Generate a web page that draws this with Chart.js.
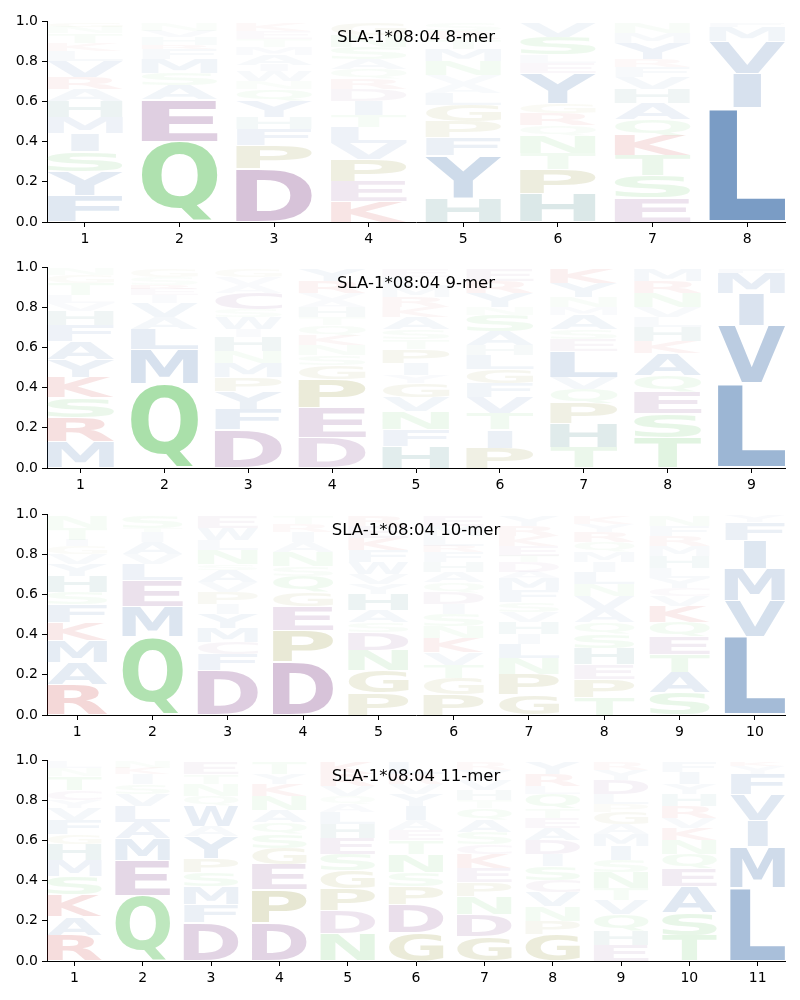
<!DOCTYPE html>
<html>
<head>
<meta charset="utf-8">
<script src="https://cdn.jsdelivr.net/npm/chart.js@4.4.1/dist/chart.umd.min.js"></script>
<style>
  body { margin: 0; background: #fff; }
  #wrap { position: relative; width: 800px; height: 1000px; }
  #wrap canvas { position: absolute; left: 0; }
</style>
</head>
<body>
<div id="wrap"></div>
<script>
// Letter stacks, bottom to top: [residue, height]
const mer8 = [
    [['F',.13],['Y',.12],['S',.10],['I',.09],['M',.08],['H',.08],['A',.06],['R',.06],['V',.08],['L',.05],['K',.04],['T',.05],['N',.03],['G',.02]],
    [['Q',.40],['E',.21],['A',.07],['S',.06],['M',.07],['F',.05],['R',.02],['H',.04],['V',.03],['N',.04]],
    [['D',.265],['P',.115],['F',.08],['H',.06],['Y',.08],['Q',.06],['N',.04],['W',.05],['I',.03],['A',.05],['M',.04],['T',.04],['E',.04],['K',.04]],
    [['K',.10],['E',.10],['P',.11],['V',.08],['L',.08],['T',.06],['I',.07],['D',.06],['R',.05],['Q',.05],['A',.05],['S',.06],['N',.06],['G',.06]],
    [['H',.12],['Y',.21],['F',.09],['P',.08],['G',.08],['L',.06],['A',.045],['V',.045],['N',.07],['M',.06],['T',.05],['R',.04],['S',.04]],
    [['H',.14],['P',.12],['T',.08],['N',.09],['Q',.05],['R',.06],['G',.05],['Y',.15],['E',.05],['L',.04],['S',.09],['V',.07]],
    [['E',.12],['S',.11],['T',.10],['K',.10],['Q',.08],['A',.08],['H',.07],['V',.06],['F',.05],['R',.04],['Y',.08],['M',.05],['N',.05]],
    [['L',.57],['I',.17],['V',.16],['M',.07],['F',.02]]
];
const mer9 = [
    [['M',.13],['R',.12],['S',.10],['K',.10],['Y',.09],['A',.09],['F',.08],['H',.07],['V',.04],['L',.04],['T',.06],['G',.04],['N',.03]],
    [['Q',.42],['M',.17],['L',.10],['A',.06],['V',.07],['I',.04],['E',.03],['R',.02],['S',.04],['G',.04]],
    [['D',.19],['F',.10],['Y',.09],['P',.07],['M',.07],['N',.06],['H',.07],['I',.04],['W',.06],['S',.04],['C',.08],['A',.04],['V',.04],['G',.04]],
    [['D',.15],['E',.15],['P',.14],['G',.07],['S',.05],['N',.05],['K',.05],['Q',.05],['T',.04],['H',.05],['A',.035],['V',.035],['R',.06],['Y',.06]],
    [['H',.11],['F',.08],['N',.09],['V',.07],['G',.07],['Y',.04],['I',.06],['P',.07],['T',.05],['S',.05],['A',.06],['K',.05],['R',.05],['M',.05],['L',.05],['E',.04]],
    [['P',.10],['I',.09],['T',.08],['V',.08],['F',.07],['G',.07],['L',.07],['H',.05],['A',.07],['S',.08],['N',.04],['Y',.07],['R',.06],['E',.06]],
    [['T',.10],['H',.12],['P',.10],['Q',.07],['V',.06],['L',.13],['E',.06],['S',.05],['A',.07],['M',.04],['N',.05],['Y',.07],['K',.07]],
    [['T',.15],['S',.12],['E',.11],['Q',.08],['A',.11],['K',.06],['H',.07],['L',.05],['V',.05],['N',.07],['R',.06],['M',.06]],
    [['L',.42],['V',.29],['I',.16],['M',.10],['F',.02]]
];
const mer10 = [
    [['R',.15],['A',.11],['M',.11],['K',.09],['F',.09],['S',.06],['H',.08],['Y',.06],['V',.05],['G',.04],['I',.03],['T',.06],['N',.06]],
    [['Q',.39],['M',.15],['E',.13],['L',.08],['V',.05],['A',.06],['I',.05],['T',.02],['S',.06]],
    [['D',.22],['F',.08],['C',.06],['M',.07],['Y',.07],['I',.05],['P',.06],['V',.05],['A',.06],['S',.03],['N',.07],['L',.05],['W',.06],['E',.06]],
    [['D',.265],['P',.155],['E',.12],['G',.07],['Q',.08],['S',.05],['N',.07],['A',.05],['I',.05],['R',.04],['T',.04]],
    [['P',.11],['G',.11],['N',.10],['D',.09],['S',.05],['A',.06],['H',.08],['Y',.05],['V',.05],['W',.06],['F',.06],['K',.06],['E',.06],['R',.05]],
    [['P',.10],['G',.08],['T',.07],['V',.06],['K',.07],['N',.06],['S',.06],['I',.05],['D',.06],['Q',.05],['A',.05],['H',.05],['F',.05],['R',.03],['L',.05],['M',.05],['E',.05]],
    [['G',.10],['P',.10],['N',.08],['L',.07],['I',.05],['H',.06],['V',.05],['S',.05],['F',.06],['M',.06],['A',.03],['D',.05],['T',.03],['E',.05],['K',.05],['R',.05],['Y',.05]],
    [['T',.09],['P',.09],['E',.07],['H',.08],['S',.07],['Q',.06],['A',.065],['V',.065],['N',.06],['L',.06],['I',.05],['M',.05],['Q',.05],['R',.05],['Y',.04],['K',.04]],
    [['S',.11],['A',.10],['T',.09],['E',.09],['Q',.07],['K',.08],['V',.05],['C',.04],['Y',.05],['L',.05],['H',.06],['M',.05],['R',.05],['F',.05],['N',.05]],
    [['L',.39],['V',.18],['M',.16],['I',.14],['F',.09],['Y',.03]]
];
const mer11 = [
    [['R',.13],['A',.09],['K',.11],['S',.09],['M',.08],['H',.08],['G',.05],['F',.07],['V',.06],['Y',.04],['C',.05],['T',.07],['N',.04],['L',.03]],
    [['Q',.325],['E',.175],['M',.11],['A',.08],['L',.08],['V',.06],['S',.05],['I',.05],['K',.03],['N',.03]],
    [['D',.19],['F',.09],['M',.09],['S',.07],['P',.07],['Y',.11],['A',.05],['W',.10],['Q',.05],['N',.06],['T',.05],['E',.06]],
    [['D',.19],['P',.165],['E',.125],['G',.08],['S',.07],['Q',.06],['A',.06],['N',.07],['K',.06],['Y',.05],['T',.06]],
    [['N',.135],['D',.115],['P',.11],['G',.09],['S',.08],['E',.08],['H',.07],['L',.06],['A',.04],['Q',.04],['V',.05],['R',.06],['K',.06]],
    [['G',.14],['D',.14],['P',.09],['S',.07],['N',.09],['T',.07],['E',.05],['A',.05],['I',.07],['Y',.06],['V',.05],['R',.05],['L',.06]],
    [['G',.12],['D',.11],['N',.09],['P',.07],['E',.07],['K',.07],['C',.05],['S',.06],['A',.06],['Q',.06],['T',.04],['H',.05],['V',.05],['Y',.05],['R',.04]],
    [['G',.135],['P',.065],['N',.07],['V',.07],['C',.06],['S',.07],['I',.06],['D',.07],['A',.06],['E',.05],['T',.05],['Q',.07],['L',.04],['R',.06],['Y',.06]],
    [['E',.08],['H',.07],['Q',.08],['V',.07],['T',.06],['N',.08],['S',.06],['I',.07],['M',.06],['A',.05],['G',.06],['P',.04],['L',.05],['D',.07],['Y',.05],['R',.04]],
    [['T',.125],['S',.115],['A',.13],['E',.09],['Q',.07],['N',.07],['K',.06],['V',.05],['R',.06],['H',.06],['Y',.05],['I',.06],['F',.05]],
    [['L',.365],['M',.205],['I',.13],['V',.13],['F',.10],['Y',.04],['K',.02]]
];

const panelTitles = ['SLA-1*08:04 8-mer', 'SLA-1*08:04 9-mer', 'SLA-1*08:04 10-mer', 'SLA-1*08:04 11-mer'];
const panelData = [mer8, mer9, mer10, mer11];

// residue colour groups
const GROUP_RGB = {
    hydrophobic: [60, 110, 170],
    polar: [87, 193, 87],
    acidic: [129, 65, 136],
    special: [134, 134, 30],
    basic: [195, 40, 40],
    his: [40, 120, 120]
};
const RESIDUE_GROUP = {
    A: 'hydrophobic', V: 'hydrophobic', L: 'hydrophobic', I: 'hydrophobic', M: 'hydrophobic',
    F: 'hydrophobic', W: 'hydrophobic', Y: 'hydrophobic',
    S: 'polar', T: 'polar', N: 'polar', Q: 'polar',
    D: 'acidic', E: 'acidic', C: 'acidic',
    P: 'special', G: 'special',
    K: 'basic', R: 'basic',
    H: 'his'
};

const GLYPH_FONT = 'bold 200px "DejaVu Sans"';
const TICK_FONT = { family: 'DejaVu Sans', size: 14 };

// opacity grows with letter height, small letters fade out faster
function residueColor(res, h) {
    const rgb = GROUP_RGB[RESIDUE_GROUP[res]];
    const a = Math.max(0.03, Math.min(1, h * 1.2 * Math.min(1, Math.sqrt(h / 0.1))));
    return `rgba(${rgb[0]},${rgb[1]},${rgb[2]},${a.toFixed(3)})`;
}

// narrow glyphs (like I) are not stretched wider than an E would be
function drawGlyph(ctx, ch, x0, x1, yTop, yBot, color) {
    ctx.save();
    ctx.font = GLYPH_FONT;
    ctx.textAlign = 'left';
    ctx.textBaseline = 'alphabetic';
    const m = ctx.measureText(ch);
    const e = ctx.measureText('E');
    const gw = m.actualBoundingBoxLeft + m.actualBoundingBoxRight;
    const ew = e.actualBoundingBoxLeft + e.actualBoundingBoxRight;
    const gh = m.actualBoundingBoxAscent + m.actualBoundingBoxDescent;
    const colW = x1 - x0;
    const sx = Math.min(colW / gw, colW / ew);
    const drawnW = gw * sx;
    ctx.translate(x0 + (colW - drawnW) / 2, yTop);
    ctx.scale(sx, (yBot - yTop) / gh);
    ctx.fillStyle = color;
    ctx.fillText(ch, m.actualBoundingBoxLeft, m.actualBoundingBoxAscent);
    ctx.restore();
}

// draws the stacked letters and the in-axes title
const logoPlugin = {
    id: 'logo',
    afterDatasetsDraw(chart, args, opts) {
        const { ctx, chartArea } = chart;
        const x = chart.scales.x, y = chart.scales.y;
        opts.columns.forEach((stack, i) => {
            const pos = i + 1;
            const left = x.getPixelForValue(pos - 0.4);
            const right = x.getPixelForValue(pos + 0.4);
            let base = 0;
            stack.forEach(([res, h]) => {
                const pad = h * 0.02;
                const yBot = y.getPixelForValue(base + pad);
                const yTop = y.getPixelForValue(base + h - pad);
                drawGlyph(ctx, res, left, right, yTop, yBot, residueColor(res, h));
                base += h;
            });
        });
        ctx.save();
        ctx.font = '16.5px "DejaVu Sans"';
        ctx.fillStyle = '#000';
        ctx.textAlign = 'center';
        ctx.textBaseline = 'alphabetic';
        ctx.fillText(opts.title, (chartArea.left + chartArea.right) / 2, chartArea.top + 20.7);
        ctx.restore();
    }
};

function axisGrid() {
    return { display: true, drawOnChartArea: false, drawTicks: true, tickLength: 5, tickColor: '#000', tickWidth: 1 };
}

const wrap = document.getElementById('wrap');
panelData.forEach((columns, k) => {
    const canvas = document.createElement('canvas');
    canvas.width = 800;
    canvas.height = 250;
    canvas.style.top = Math.round(246.33 * k) + 'px';
    wrap.appendChild(canvas);
    const positions = columns.map((_, i) => i + 1);

    new Chart(canvas.getContext('2d'), {
        type: 'scatter',
        data: { datasets: [{ data: [], pointRadius: 0 }] },
        plugins: [logoPlugin],
        options: {
            responsive: false,
            animation: false,
            devicePixelRatio: 1,
            layout: { padding: { top: 21, right: 15, left: 0, bottom: 0 } },
            plugins: {
                legend: { display: false },
                tooltip: { enabled: false },
                logo: { columns, title: panelTitles[k] }
            },
            scales: {
                x: {
                    type: 'linear',
                    min: 0.6,
                    max: columns.length + 0.4,
                    afterBuildTicks: s => { s.ticks = positions.map(v => ({ value: v })); },
                    afterFit: s => { s.height = 28; },
                    ticks: { font: TICK_FONT, color: '#000', padding: 4, autoSkip: false, maxRotation: 0, callback: v => String(v) },
                    grid: axisGrid(),
                    border: { display: true, color: '#000', width: 1 }
                },
                y: {
                    min: 0,
                    max: 1,
                    afterFit: s => { s.width = 47; },
                    ticks: { stepSize: 0.2, font: TICK_FONT, color: '#000', padding: 4, callback: v => v.toFixed(1) },
                    grid: axisGrid(),
                    border: { display: true, color: '#000', width: 1 }
                }
            }
        }
    });
});
</script>
</body>
</html>
